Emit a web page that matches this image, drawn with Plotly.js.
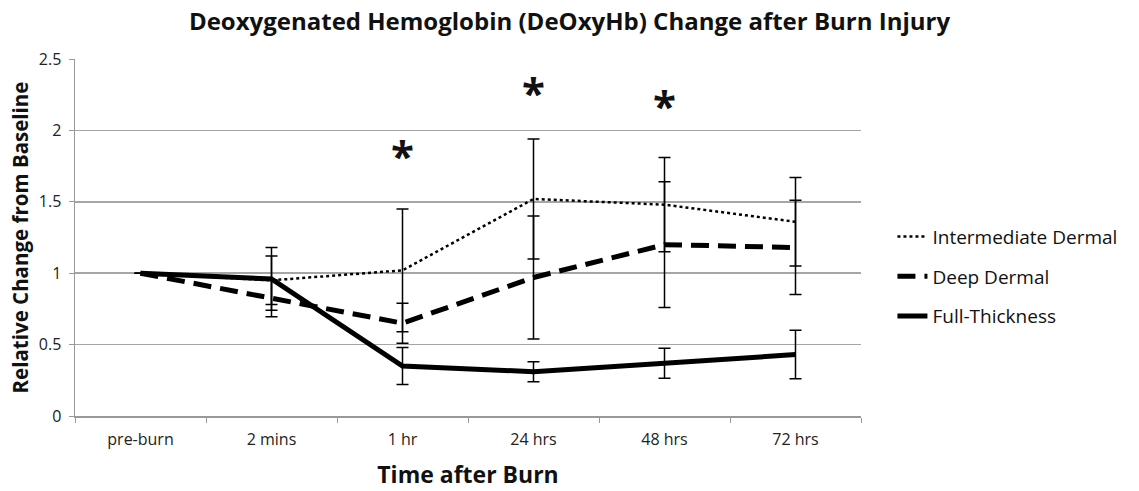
<!DOCTYPE html>
<html><head><meta charset="utf-8">
<script src="https://cdn.plot.ly/plotly-3.0.1.min.js"></script>
<style>html,body{margin:0;padding:0;background:#fff;}#chart{width:1139px;height:491px;}</style>
</head><body><div id="chart"></div>
<script>
const categories = ["pre-burn", "2 mins", "1 hr", "24 hrs", "48 hrs", "72 hrs"];
const intermediate = [1.0, 0.95, 1.02, 1.52, 1.48, 1.36];
const intermediateErr = [0, 0.17, 0.43, 0.42, 0.33, 0.31];
const deep = [1.0, 0.825, 0.65, 0.97, 1.20, 1.18];
const deepErr = [0, 0.13, 0.14, 0.43, 0.44, 0.33];
const full = [1.0, 0.96, 0.35, 0.31, 0.37, 0.43];
const fullErr = [0, 0.22, 0.13, 0.07, 0.105, 0.17];
const starCats = ["1 hr", "24 hrs", "48 hrs"];
const starY = [1.83, 2.27, 2.18];

const font = "Open Sans, Lato, Liberation Sans, sans-serif";
function errBar(arr){ return {type:"data", array:arr, visible:true, color:"#000", thickness:1.5, width:6}; }

const traces = [
  {x:categories, y:intermediate, name:"Intermediate Dermal", mode:"lines", legendgroup:"a",
   line:{color:"#000", width:2.5, dash:"dot"}, error_y:errBar(intermediateErr)},
  {x:categories, y:deep, name:"Deep Dermal", mode:"lines", legendgroup:"b",
   line:{color:"#000", width:5, dash:"18px,9px"}, error_y:errBar(deepErr)},
  {x:categories, y:full, name:"Full-Thickness", mode:"lines", legendgroup:"c",
   line:{color:"#000", width:5}, error_y:errBar(fullErr)}
];

const annotations = starCats.map((c,i)=>({x:c, y:starY[i], xref:"x", yref:"y", text:"<b>*</b>", showarrow:false,
  font:{family:font, size:42, color:"#111"}}));

const layout = {
  width:1139, height:491,
  margin:{l:75, r:278, t:59, b:75},
  paper_bgcolor:"#fff", plot_bgcolor:"#fff",
  title:{text:"<b>Deoxygenated Hemoglobin (DeOxyHb) Change after Burn Injury</b>", x:0.5, xref:"container", xanchor:"center", y:0.955, yanchor:"middle",
    font:{family:font, size:24, color:"#111"}},
  xaxis:{type:"category", range:[-0.5, 5.5], tickson:"boundaries", ticks:"outside", ticklen:5, tickcolor:"#999", ticklabelstandoff:8,
    showline:true, linecolor:"#999", linewidth:1.5, showgrid:false, zeroline:false,
    tickfont:{family:font, size:16, color:"#222"},
    title:{text:"<b>Time after Burn</b>", font:{family:font, size:23, color:"#111"}, standoff:18}},
  yaxis:{range:[0,2.5], dtick:0.5, ticks:"outside", ticklen:5, tickcolor:"#999", ticklabelstandoff:4,
    showline:true, linecolor:"#999", linewidth:1.5, showgrid:true, gridcolor:"#a6a6a6", gridwidth:1.5, zeroline:false,
    tickfont:{family:font, size:16, color:"#222"},
    title:{text:"<b>Relative Change from Baseline</b>", font:{family:font, size:20.5, color:"#111"}, standoff:4}},
  legend:{x:1.04, y:0.39, xanchor:"left", yanchor:"middle", tracegroupgap:12, traceorder:"grouped",
    font:{family:font, size:19, color:"#111"}, bgcolor:"rgba(0,0,0,0)"},
  showlegend:true,
  annotations:annotations
};
Plotly.newPlot("chart", traces, layout, {displayModeBar:false, staticPlot:true});
</script></body></html>
